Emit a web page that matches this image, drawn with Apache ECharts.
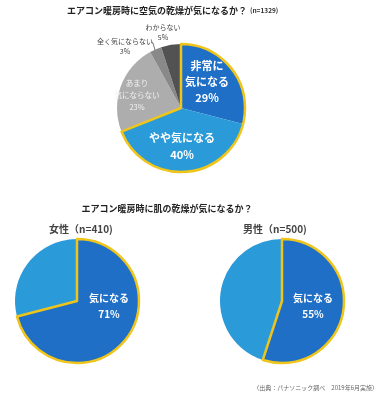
<!DOCTYPE html>
<html><head><meta charset="utf-8">
<script src="https://cdn.jsdelivr.net/npm/echarts@6/dist/echarts.min.js"></script>
<style>html,body{margin:0;padding:0;background:#fff}#c{width:382px;height:400px}</style>
</head><body><div id="c"></div>
<script>
const topCategories = ['非常に\n気になる', 'やや気になる', 'あまり\n気にならない', '全く気にならない', 'わからない'];
const topValues = [29, 40, 23, 3, 5];
const femaleCategories = ['気になる', 'その他'];
const femaleValues = [71, 29];
const maleCategories = ['気になる', 'その他'];
const maleValues = [55, 45];

const FONT = '"Noto Sans CJK JP", "Noto Sans", sans-serif';
const DARK = '#1F6FC6', LIGHT = '#2A9AD8', YEL = '#EFC51C';
const topColors = [DARK, LIGHT, '#ADADAD', '#898989', '#525252'];

function pie(center, r, names, vals, colors) {
  return {
    type: 'pie', center, radius: r, startAngle: 90, clockwise: true, silent: true,
    label: {show: false}, labelLine: {show: false},
    data: vals.map((v, i) => ({name: names[i], value: v, itemStyle: {color: colors[i], borderWidth: 0}}))
  };
}
function outline(center, r, val, total) {
  return {
    type: 'pie', center, radius: r, startAngle: 90, clockwise: true, silent: true, z: 5,
    label: {show: false}, labelLine: {show: false},
    data: [
      {value: val, itemStyle: {color: 'rgba(0,0,0,0)', borderColor: YEL, borderWidth: 2.5}},
      {value: total - val, itemStyle: {color: 'rgba(0,0,0,0)', borderWidth: 0}}
    ]
  };
}
function txt(x, y, text, size, color, weight, lh) {
  return {type: 'text', z: 100, x, y, style: {text, fill: color, font: (weight || 'normal') + ' ' + size + 'px ' + FONT,
    textAlign: 'center', textVerticalAlign: 'middle', lineHeight: lh || size * 1.3}};
}

const chart = echarts.init(document.getElementById('c'));
const blueSum = topValues[0] + topValues[1];
chart.setOption({
  backgroundColor: '#fff',
  animation: false,
  series: [
    pie([181, 108], 64, topCategories, topValues, topColors),
    outline([181, 108], 64, blueSum, 100),
    pie([77, 301], 62, femaleCategories, femaleValues, [DARK, LIGHT]),
    outline([77, 301], 62, femaleValues[0], 100),
    pie([282, 301], 62, maleCategories, maleValues, [DARK, LIGHT]),
    outline([282, 301], 62, maleValues[0], 100)
  ],
  graphic: [
    {type: 'text', z: 100, x: 67, y: 11, style: {text: 'エアコン暖房時に空気の乾燥が気になるか？', fill: '#222', font: 'bold 9px ' + FONT, textVerticalAlign: 'middle'}},
    {type: 'text', z: 100, x: 250, y: 11, style: {text: '(n=1329)', fill: '#333', font: 'bold 6.5px ' + FONT, textVerticalAlign: 'middle'}},
    txt(207, 82, topCategories[0] + '\n' + topValues[0] + '%', 11, '#fff', 'bold', 16),
    txt(182, 146, topCategories[1] + '\n' + topValues[1] + '%', 11, '#fff', 'bold', 17),
    txt(137, 95, topCategories[2] + '\n' + topValues[2] + '%', 7.5, '#f2f2f2', 'normal', 12),
    txt(125, 46, topCategories[3] + '\n' + topValues[3] + '%', 7, '#444', 'normal', 10),
    txt(163, 32, topCategories[4] + '\n' + topValues[4] + '%', 7, '#444', 'normal', 10),
    {type: 'polyline', z: 100, shape: {points: [[151, 42], [153, 43], [155, 50]]}, style: {stroke: '#555', lineWidth: 0.8, fill: null}},
    {type: 'text', z: 100, x: 167, y: 209, style: {text: 'エアコン暖房時に肌の乾燥が気になるか？', fill: '#222', font: 'bold 9px ' + FONT, textAlign: 'center', textVerticalAlign: 'middle'}},
    txt(81, 229, '女性（n=410)', 10, '#444', 'bold'),
    txt(275, 229, '男性（n=500)', 10, '#444', 'bold'),
    txt(109, 306, femaleCategories[0] + '\n' + femaleValues[0] + '%', 10, '#fff', 'bold', 16),
    txt(313, 306, maleCategories[0] + '\n' + maleValues[0] + '%', 10, '#fff', 'bold', 16),
    {type: 'text', z: 100, x: 378, y: 388, style: {text: '（出典：パナソニック調べ　2019年6月実施）', fill: '#666', font: '6px ' + FONT, textAlign: 'right', textVerticalAlign: 'middle'}}
  ]
});
</script></body></html>
